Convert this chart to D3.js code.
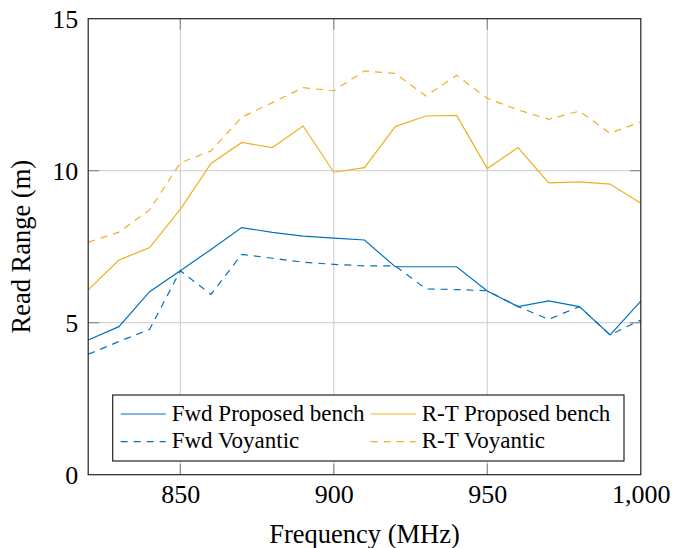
<!DOCTYPE html>
<html>
<head>
<meta charset="utf-8">
<script src="https://cdn.jsdelivr.net/npm/d3@7"></script>
<style>
  body { margin: 0; background: #fff; }
  svg { font-family: "Liberation Serif", "DejaVu Serif", serif; }
</style>
</head>
<body>
<svg id="chart" width="673" height="548"></svg>
<script>
// frequency points (MHz)
const freqs = [820, 830, 840, 850, 860, 870, 880, 890, 900, 910, 920, 930, 940, 950, 960, 970, 980, 990, 1000];

// read range (m)
const fwdProposed = [4.43, 4.87, 6.02, 6.71, 7.41, 8.13, 7.97, 7.85, 7.78, 7.72, 6.84, 6.84, 6.84, 6.04, 5.53, 5.72, 5.53, 4.6, 5.71];
const rtProposed = [6.08, 7.06, 7.47, 8.73, 10.24, 10.93, 10.76, 11.47, 9.95, 10.1, 11.45, 11.8, 11.82, 10.07, 10.76, 9.6, 9.63, 9.56, 8.93];
const fwdVoyantic = [3.96, 4.38, 4.78, 6.71, 5.93, 7.25, 7.12, 6.99, 6.92, 6.87, 6.87, 6.11, 6.09, 6.05, 5.53, 5.11, 5.53, 4.6, 5.09];
const rtVoyantic = [7.65, 7.98, 8.71, 10.26, 10.65, 11.76, 12.24, 12.73, 12.63, 13.28, 13.2, 12.46, 13.14, 12.38, 12.0, 11.69, 11.96, 11.23, 11.61];

const xTicks = [850, 900, 950, 1000];
const yTicks = [0, 5, 10, 15];

const series = [
  { name: "Fwd Proposed bench", values: fwdProposed, color: "#0072BD", dash: null },
  { name: "R-T Proposed bench", values: rtProposed, color: "#EDB120", dash: null },
  { name: "Fwd Voyantic", values: fwdVoyantic, color: "#0072BD", dash: "7,6" },
  { name: "R-T Voyantic", values: rtVoyantic, color: "#EDB120", dash: "7,6" },
];

const width = 673, height = 548;
const marginTop = 18.7, marginRight = 32.2, marginBottom = 73.3, marginLeft = 88.2;

const svg = d3.select("#chart");

const x = d3.scaleLinear()
  .domain([820, 1000])
  .range([marginLeft, width - marginRight]);

const y = d3.scaleLinear()
  .domain([0, 15])
  .range([height - marginBottom, marginTop]);

// grid lines
svg.append("g")
  .selectAll("line.gx")
  .data(xTicks.filter(d => d < 1000))
  .join("line")
  .attr("x1", d => x(d)).attr("x2", d => x(d))
  .attr("y1", y(0)).attr("y2", y(15))
  .attr("stroke", "#cccccc").attr("stroke-width", 1);

svg.append("g")
  .selectAll("line.gy")
  .data(yTicks.filter(d => d > 0 && d < 15))
  .join("line")
  .attr("x1", x(820)).attr("x2", x(1000))
  .attr("y1", d => y(d)).attr("y2", d => y(d))
  .attr("stroke", "#cccccc").attr("stroke-width", 1);

// small inner tick marks (darker), top/bottom and left/right
const tickLen = 11;
const tg = svg.append("g").attr("stroke", "#8c8c8c").attr("stroke-width", 1.2);
xTicks.filter(d => d < 1000).forEach(d => {
  tg.append("line").attr("x1", x(d)).attr("x2", x(d)).attr("y1", y(0)).attr("y2", y(0) - tickLen);
  tg.append("line").attr("x1", x(d)).attr("x2", x(d)).attr("y1", y(15)).attr("y2", y(15) + tickLen);
});
yTicks.filter(d => d > 0 && d < 15).forEach(d => {
  tg.append("line").attr("x1", x(820)).attr("x2", x(820) + tickLen).attr("y1", y(d)).attr("y2", y(d));
  tg.append("line").attr("x1", x(1000)).attr("x2", x(1000) - tickLen).attr("y1", y(d)).attr("y2", y(d));
});

// data lines
const line = d3.line()
  .x((d, i) => x(freqs[i]))
  .y(d => y(d));

svg.append("g")
  .selectAll("path")
  .data(series)
  .join("path")
  .attr("fill", "none")
  .attr("stroke", d => d.color)
  .attr("stroke-width", 1.2)
  .attr("stroke-dasharray", d => d.dash)
  .attr("d", d => line(d.values));

// frame
svg.append("rect")
  .attr("x", x(820)).attr("y", y(15))
  .attr("width", x(1000) - x(820))
  .attr("height", y(0) - y(15))
  .attr("fill", "none")
  .attr("stroke", "#222").attr("stroke-width", 1.2);

// axes (labels only)
const xAxis = d3.axisBottom(x)
  .tickValues(xTicks)
  .tickFormat(d3.format(","))
  .tickSize(0)
  .tickPadding(10);

const yAxis = d3.axisLeft(y)
  .tickValues(yTicks)
  .tickSize(0)
  .tickPadding(10);

svg.append("g")
  .attr("transform", `translate(0,${y(0)})`)
  .call(xAxis)
  .call(g => g.select(".domain").remove())
  .selectAll("text")
  .attr("font-family", "Liberation Serif")
  .attr("font-size", 26)
  .attr("fill", "#000");

svg.append("g")
  .attr("transform", `translate(${x(820)},0)`)
  .call(yAxis)
  .call(g => g.select(".domain").remove())
  .selectAll("text")
  .attr("font-family", "Liberation Serif")
  .attr("font-size", 26)
  .attr("fill", "#000");

// axis titles
svg.append("text")
  .attr("x", (x(820) + x(1000)) / 2)
  .attr("y", 543)
  .attr("text-anchor", "middle")
  .attr("font-size", 26.5)
  .text("Frequency (MHz)");

svg.append("text")
  .attr("transform", `translate(30,${(y(0) + y(15)) / 2}) rotate(-90)`)
  .attr("text-anchor", "middle")
  .attr("font-size", 26.5)
  .text("Read Range (m)");

// legend
const legend = svg.append("g");
legend.append("rect")
  .attr("x", 112.7).attr("y", 395)
  .attr("width", 624 - 112.7).attr("height", 461 - 395)
  .attr("fill", "#fff")
  .attr("stroke", "#222").attr("stroke-width", 1.2);

const colX = [120.7, 370.7];
const rowY = [414, 441.7];
series.forEach((s, i) => {
  const cx = colX[i % 2], cy = rowY[Math.floor(i / 2)];
  legend.append("line")
    .attr("x1", cx).attr("x2", cx + 45)
    .attr("y1", cy).attr("y2", cy)
    .attr("stroke", s.color)
    .attr("stroke-width", 1.2)
    .attr("stroke-dasharray", s.dash);
  legend.append("text")
    .attr("x", cx + 51)
    .attr("y", cy + 6.5)
    .attr("font-size", 23)
    .text(s.name);
});
</script>
</body>
</html>
